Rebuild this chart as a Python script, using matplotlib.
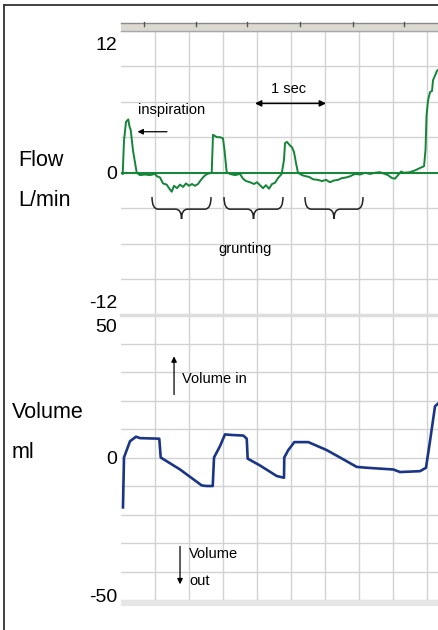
import numpy as np
import matplotlib
matplotlib.use("Agg")
import matplotlib.pyplot as plt
from matplotlib.patches import Rectangle, PathPatch
from matplotlib.path import Path
from matplotlib.lines import Line2D
from matplotlib.transforms import offset_copy

plt.rcParams['font.family'] = ['Liberation Sans', 'DejaVu Sans']

# flow trace (time s, flow L/min)
flow_t = [0.025, 0.044, 0.074, 0.107, 0.125, 0.143, 0.176, 0.231, 0.279, 0.353,
          0.426, 0.5, 0.529, 0.574, 0.618, 0.672, 0.706, 0.746, 0.779, 0.824,
          0.868, 0.912, 0.956, 1.0, 1.044, 1.088, 1.132, 1.176, 1.221, 1.265,
          1.334, 1.353, 1.382, 1.412, 1.456, 1.5, 1.522, 1.554, 1.603, 1.676,
          1.75, 1.794, 1.838, 1.897, 1.956, 2.0, 2.044, 2.088, 2.132, 2.176,
          2.221, 2.265, 2.309, 2.363, 2.397, 2.412, 2.441, 2.485, 2.515, 2.544,
          2.574, 2.603, 2.662, 2.721, 2.765, 2.824, 2.897, 2.956, 3.015, 3.074,
          3.132, 3.191, 3.25, 3.309, 3.368, 3.441, 3.515, 3.588, 3.662, 3.735,
          3.809, 3.926, 3.985, 4.029, 4.074, 4.118, 4.162, 4.25, 4.324, 4.397,
          4.456, 4.478, 4.493, 4.515, 4.544, 4.574, 4.588, 4.618, 4.647, 4.691]
flow_v = [-0.1, 2.7, 4.3, 4.5, 3.9, 3.6, 1.9, 0.0, -0.2, -0.15,
          -0.2, -0.1, -0.3, -0.4, -0.9, -1.0, -1.3, -1.6, -1.1, -1.3,
          -1.0, -1.2, -0.9, -1.1, -0.95, -1.1, -0.95, -0.6, -0.3, -0.1,
          0.0, 3.2, 3.1, 3.0, 3.0, 2.9, 1.9, 0.05, -0.1, -0.2,
          -0.1, -0.5, -0.7, -0.8, -0.95, -0.8, -1.05, -1.3, -1.05, -1.35,
          -0.95, -0.85, -0.45, -0.1, 1.1, 2.5, 2.6, 2.3, 2.15, 1.75,
          0.8, 0.0, -0.2, -0.3, -0.35, -0.55, -0.6, -0.7, -0.6, -0.8,
          -0.65, -0.6, -0.45, -0.4, -0.3, -0.1, -0.15, 0.0, -0.1, 0.0,
          0.05, -0.2, -0.45, -0.5, -0.2, 0.1, 0.0, 0.05, 0.2, 0.4,
          0.55, 1.9, 4.8, 6.1, 6.8, 6.9, 7.8, 8.2, 8.6, 8.8]

# volume trace (time s, volume ml)
vol_t = [0.029, 0.044, 0.132, 0.221, 0.279, 0.563, 0.584, 0.868, 1.187, 1.26,
         1.349, 1.368, 1.456, 1.529, 1.628, 1.799, 1.849, 1.863, 2.044, 2.29,
         2.397, 2.401, 2.46, 2.549, 2.754, 3.025, 3.221, 3.466, 3.613, 4.004,
         4.103, 4.397, 4.485, 4.544, 4.618, 4.691]
vol_v = [-17.5, 0.0, 5.7, 7.3, 6.8, 6.6, 0.0, -4.2, -9.8, -10.0,
         -10.0, 0.0, 4.0, 8.1, 7.9, 7.7, 6.6, -0.4, -2.8, -6.5,
         -7.1, 0.0, 2.6, 5.4, 5.4, 2.6, 0.0, -3.3, -3.6, -4.2,
         -5.1, -4.8, -3.6, 5.7, 18.0, 19.5]

flow_labels = [12, 0, -12]
vol_labels = [50, 0, -50]
grunt_spans = [(0.456, 1.324), (1.515, 2.382), (2.706, 3.559)]

W, H = 439, 630
GREEN = '#138536'
BLUE = '#1b3586'
GRID = '#d2d2d2'


def fx(px):
    return px / W


def fy(py):
    return 1 - py / H


fig = plt.figure(figsize=(W / 100, H / 100), dpi=100)
xmax = (W - 121) / 68.0

ax1 = fig.add_axes([fx(121), fy(315), 1 - fx(121), (315 - 30.5) / H])
ax2 = fig.add_axes([fx(121), fy(600), 1 - fx(121), (600 - 315) / H])

for ax in (ax1, ax2):
    ax.set_xlim(0, xmax)
    ax.set_xticks(np.arange(0.5, xmax, 0.5))
    ax.tick_params(length=0, labelbottom=False, labelleft=False)
    ax.grid(True, color=GRID, lw=1)
    for s in ax.spines.values():
        s.set_visible(False)

ax1.set_ylim(-12, 12)
ax1.set_yticks(np.arange(-12, 13, 3))
ax1.axhline(0, color=GREEN, lw=1.4, zorder=2)
ax1.plot(flow_t, flow_v, color=GREEN, lw=1.4, zorder=3)

ax2.set_ylim(-50, 50)
ax2.set_yticks(np.arange(-50, 51, 10))
ax2.plot(vol_t, vol_v, color=BLUE, lw=1.9, zorder=3)

# y labels, nudged inside the panel like the original (pixels, + = down)
for ax, vals, shifts in [(ax1, flow_labels, [12.5, 0, -13]), (ax2, vol_labels, [10, 0, -4])]:
    for v, dy in zip(vals, shifts):
        tr = offset_copy(ax.get_yaxis_transform(), fig=fig, x=-4, y=-dy, units='dots')
        ax.text(0, v, str(v), transform=tr, fontsize=14, ha='right', va='center_baseline')

# annotations on flow panel
ax1.annotate('', xy=(0.243, 3.46), xytext=(0.676, 3.46),
             arrowprops=dict(arrowstyle='-|>', color='k', lw=0.9, mutation_scale=8, shrinkA=0, shrinkB=0))
ax1.text(0.255, 5.3, 'inspiration', fontsize=10.5, va='center', ha='left')
ax1.annotate('', xy=(1.97, 5.85), xytext=(3.015, 5.85),
             arrowprops=dict(arrowstyle='<|-|>', color='k', lw=1.1, mutation_scale=9, shrinkA=0, shrinkB=0))
ax1.text(2.47, 7.1, '1 sec', fontsize=10.5, va='center', ha='center')
ax1.text(1.82, -6.4, 'grunting', fontsize=10.5, va='center', ha='center')

yt, ym, yb, d = -2.05, -3.07, -3.9, 0.09
for x1, x2 in grunt_spans:
    xc = (x1 + x2) / 2
    verts = [(x1, yt), (x1, ym), (x1 + d, ym), (xc - d, ym), (xc, ym), (xc, yb),
             (xc, ym), (xc + d, ym), (x2 - d, ym), (x2, ym), (x2, yt)]
    codes = [Path.MOVETO, Path.CURVE3, Path.CURVE3, Path.LINETO, Path.CURVE3, Path.CURVE3,
             Path.CURVE3, Path.CURVE3, Path.LINETO, Path.CURVE3, Path.CURVE3]
    ax1.add_patch(PathPatch(Path(verts, codes), fill=False, ec='#222222', lw=1.1, zorder=4))

# annotations on volume panel
ax2.annotate('', xy=(0.78, 35.5), xytext=(0.78, 22.1),
             arrowprops=dict(arrowstyle='-|>', color='k', lw=0.9, mutation_scale=8, shrinkA=0, shrinkB=0))
ax2.text(0.9, 27.4, 'Volume in', fontsize=10.5, va='center', ha='left')
ax2.annotate('', xy=(0.868, -44.5), xytext=(0.868, -31.2),
             arrowprops=dict(arrowstyle='-|>', color='k', lw=0.9, mutation_scale=8, shrinkA=0, shrinkB=0))
ax2.text(1.0, -34.0, 'Volume', fontsize=10.5, va='center', ha='left')
ax2.text(1.0, -43.2, 'out', fontsize=10.5, va='center', ha='left')

# side labels
fig.text(fx(18), fy(160), 'Flow', fontsize=15.5, va='center', ha='left')
fig.text(fx(18), fy(200), 'L/min', fontsize=15.5, va='center', ha='left')
fig.text(fx(12), fy(413), 'Volume', fontsize=15.5, va='center', ha='left')
fig.text(fx(12), fy(452), 'ml', fontsize=15.5, va='center', ha='left')

# header band, separators and frame
fig.add_artist(Rectangle((fx(121), fy(30.7)), 1, 8 / H, transform=fig.transFigure,
                         fc='#dcd9d2', ec='none'))
fig.add_artist(Line2D([fx(121), 1], [fy(23), fy(23)], color='#8a8a8a', lw=1))
fig.add_artist(Line2D([fx(121), 1], [fy(30.5), fy(30.5)], color='#a8a8a8', lw=1))
for tx in [144, 196, 247, 300, 353, 404]:
    fig.add_artist(Line2D([fx(tx), fx(tx)], [fy(22), fy(25.5)], color='#555555', lw=1))
fig.add_artist(Line2D([fx(121), 1], [fy(315), fy(315)], color='#dddddd', lw=2.5))
fig.add_artist(Rectangle((fx(121), fy(606)), 1, 6 / H, transform=fig.transFigure,
                         fc='#e6e6e6', ec='none'))
fig.add_artist(Line2D([fx(4.5), fx(4.5)], [fy(5), 0], color='#333333', lw=1.3))
fig.add_artist(Line2D([fx(4), 1], [fy(5), fy(5)], color='#333333', lw=1.3))

fig.savefig('out.png', dpi=100)
